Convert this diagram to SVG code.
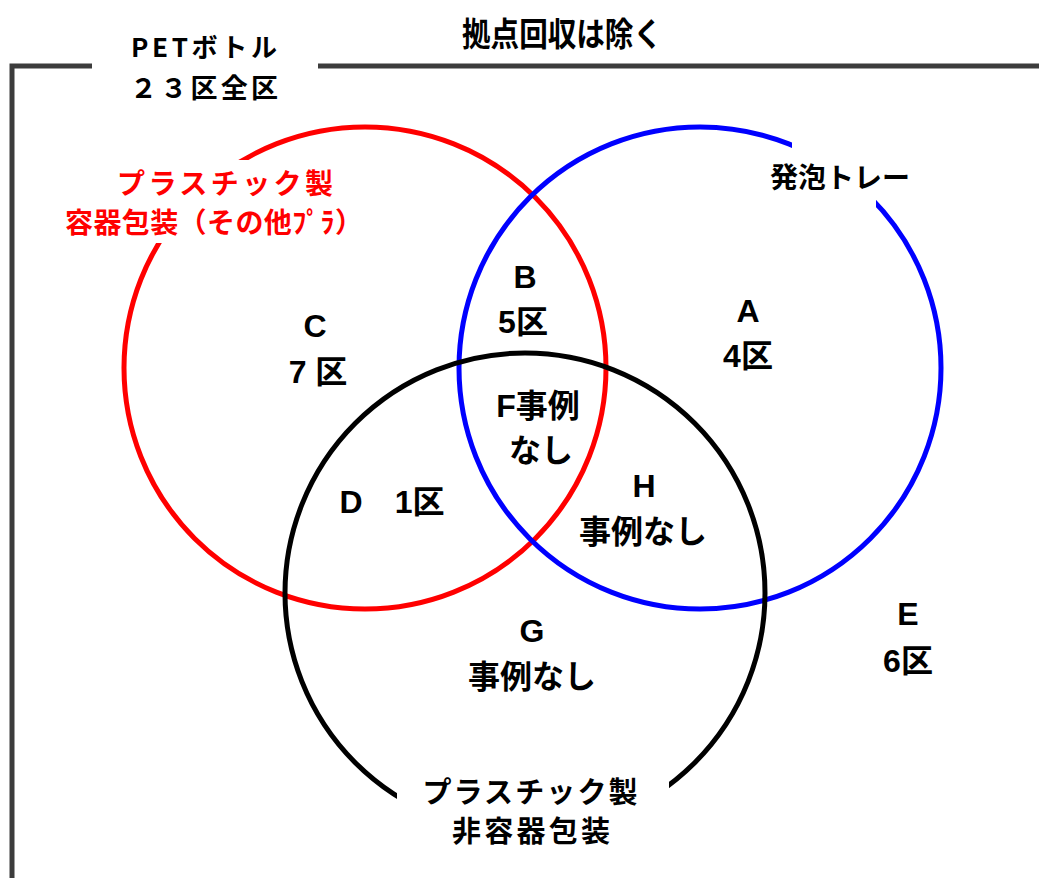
<svg xmlns="http://www.w3.org/2000/svg" width="1039" height="878" viewBox="0 0 1039 878">
<style>
text{font-family:"Liberation Sans","Noto Sans CJK JP",sans-serif;font-weight:bold;fill:#000;text-anchor:middle}
.lbl{font-size:32px}
.jp{font-family:"Noto Sans CJK JP","Liberation Sans",sans-serif}
.ring{fill:none;stroke-width:5}
.frame{stroke:#3c3c3c;stroke-width:5;fill:none}
.mask{fill:#fff}
</style>
<rect width="1039" height="878" fill="#fff"/>
<g id="frame">
<polyline class="frame" points="92,66 12,66 12,878"/>
<line class="frame" x1="318" y1="66" x2="1039" y2="66"/>
</g>
<g id="title"><text class="jp" x="562" y="46" font-size="33" textLength="200" lengthAdjust="spacingAndGlyphs">拠点回収は除く</text></g>
<g id="pet">
<text class="jp" x="204" y="57" font-size="26" textLength="146">PETボトル</text>
<text class="jp" x="204" y="98" font-size="27" textLength="148">２３区全区</text>
</g>
<g id="circles">
<circle id="red" class="ring" cx="365" cy="368" r="241" stroke="#ff0000"/>
<circle id="blue" class="ring" cx="700" cy="368" r="241" stroke="#0000ff"/>
<circle id="black" class="ring" cx="525" cy="593" r="240" stroke="#000"/>
</g>
<g id="label-red">
<rect class="mask" x="60" y="160" width="305" height="83"/>
<text class="jp" x="225" y="194" font-size="28" style="fill:#ff0000" textLength="216">プラスチック製</text>
<text class="jp" x="214" y="233" font-size="28" style="fill:#ff0000" textLength="298">容器包装（その他ﾌﾟﾗ）</text>
</g>
<g id="label-blue">
<rect class="mask" x="792" y="125" width="84" height="85"/>
<text class="jp" x="840" y="188" font-size="28" textLength="140">発泡トレー</text>
</g>
<g id="label-black">
<rect class="mask" x="397" y="770" width="272" height="108"/>
<text class="jp" x="530" y="803" font-size="29" textLength="215">プラスチック製</text>
<text class="jp" x="531" y="842" font-size="29" textLength="158">非容器包装</text>
</g>
<g id="region-A"><text class="lbl" x="748" y="322">A</text><text class="lbl" x="748" y="367">4区</text></g>
<g id="region-B"><text class="lbl" x="525" y="288">B</text><text class="lbl" x="523" y="333">5区</text></g>
<g id="region-C"><text class="lbl" x="315" y="337">C</text><text class="lbl" x="318" y="383">7 区</text></g>
<g id="region-D"><text class="lbl" x="392" y="513">D　1区</text></g>
<g id="region-E"><text class="lbl" x="908" y="625">E</text><text class="lbl" x="908" y="672">6区</text></g>
<g id="region-F"><text class="lbl" x="538" y="417">F事例</text><text class="lbl" x="541" y="462">なし</text></g>
<g id="region-G"><text class="lbl" x="532" y="642">G</text><text class="lbl" x="532" y="688">事例なし</text></g>
<g id="region-H"><text class="lbl" x="644" y="497">H</text><text class="lbl" x="643" y="543">事例なし</text></g>
</svg>
